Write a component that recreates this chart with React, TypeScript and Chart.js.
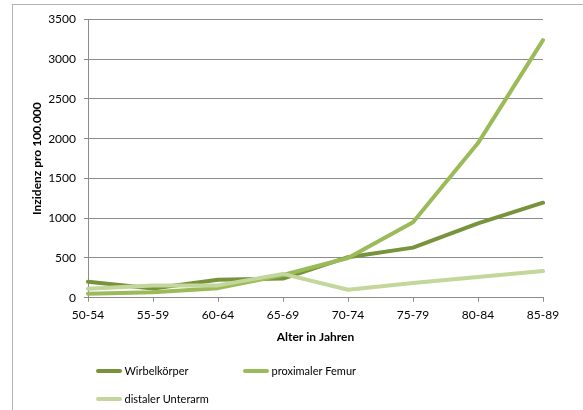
import { useEffect, useRef } from 'react';
import { Chart, registerables } from 'chart.js';

Chart.register(...registerables);

const categories = ['50-54', '55-59', '60-64', '65-69', '70-74', '75-79', '80-84', '85-89'];
const seriesLabels = ['Wirbelkörper', 'proximaler Femur', 'distaler Unterarm'];
const wirbelkoerper = [200, 115, 225, 240, 510, 630, 935, 1195];
const proximalerFemur = [50, 70, 120, 285, 500, 950, 1945, 3240];
const distalerUnterarm = [112, 155, 155, 300, 100, 185, 260, 335];
const yMax = 3500;
const yStep = 500;
const xTitle = 'Alter in Jahren';
const yTitle = 'Inzidenz pro 100.000';

const COLORS = ['#77933C', '#9BBB59', '#C3D69B'];
const GRID = '#8c8c8c';
const FONT = 'Lato';

const legendPlugin = {
  id: 'customLegend',
  afterDraw(chart: any) {
    const ctx = chart.ctx;
    const pos = [
      { x: 96, y: 371 },
      { x: 243, y: 371 },
      { x: 96, y: 399 },
    ];
    chart.data.datasets.forEach((ds: any, i: number) => {
      const p = pos[i];
      ctx.save();
      ctx.strokeStyle = ds.borderColor;
      ctx.lineWidth = 4;
      ctx.lineCap = 'round';
      ctx.beginPath();
      ctx.moveTo(p.x + 2, p.y);
      ctx.lineTo(p.x + 24, p.y);
      ctx.stroke();
      ctx.fillStyle = '#000';
      ctx.font = `11px ${FONT}`;
      ctx.textBaseline = 'middle';
      ctx.textAlign = 'left';
      ctx.fillText(ds.label, p.x + 28.5, p.y);
      ctx.restore();
    });
  },
};

export default function App() {
  const ref = useRef<HTMLCanvasElement>(null);
  useEffect(() => {
    if (!ref.current) return;
    const chart = new Chart(ref.current, {
      type: 'line',
      data: {
        labels: categories,
        datasets: [wirbelkoerper, proximalerFemur, distalerUnterarm].map((d, i) => ({
          label: seriesLabels[i],
          data: d,
          borderColor: COLORS[i],
          backgroundColor: COLORS[i],
          borderWidth: 4,
          pointRadius: 0,
          tension: 0,
          borderCapStyle: 'round',
          borderJoinStyle: 'round',
          fill: false,
          order: 3 - i,
        })),
      },
      options: {
        responsive: false,
        animation: false,
        devicePixelRatio: 1,
        layout: { padding: { left: 13, top: 19.5, right: 40, bottom: 62.3 } },
        plugins: { legend: { display: false }, tooltip: { enabled: false } },
        scales: {
          x: {
            offset: false,
            grid: { drawOnChartArea: false, drawTicks: true, tickLength: 4, color: GRID },
            border: { display: true, color: GRID },
            ticks: { color: '#000', font: { family: FONT, size: 12 }, padding: 6, maxRotation: 0 },
            title: {
              display: true,
              text: xTitle,
              color: '#000',
              font: { family: FONT, size: 12, weight: 'bold' },
              padding: { top: 0, bottom: 3.5 },
            },
            afterFit: (s: any) => {
              s.height = 50;
            },
          },
          y: {
            min: 0,
            max: yMax,
            ticks: {
              stepSize: yStep,
              color: '#000',
              font: { family: FONT, size: 12 },
              padding: 8,
              callback: (v: any) => String(v),
            },
            grid: { color: GRID, tickLength: 4, drawTicks: true },
            border: { display: true, color: GRID },
            title: {
              display: true,
              text: yTitle,
              color: '#000',
              font: { family: FONT, size: 12, weight: 'bold' },
              padding: { top: 17, bottom: 0 },
            },
            afterFit: (s: any) => {
              s.width = 75;
            },
          },
        },
      },
      plugins: [legendPlugin],
    } as any);
    return () => chart.destroy();
  }, []);

  return (
    <div style={{ position: 'fixed', left: 0, top: 0, width: 583, height: 410, background: '#fff', overflow: 'hidden' }}>
      <div
        style={{
          position: 'absolute',
          left: 12,
          top: 4,
          width: 600,
          height: 420,
          borderLeft: '1px solid #b4b4b4',
          borderTop: '1px solid #b4b4b4',
        }}
      />
      <canvas ref={ref} width={583} height={410} style={{ position: 'absolute', left: 0, top: 0, width: 583, height: 410 }} />
    </div>
  );
}
